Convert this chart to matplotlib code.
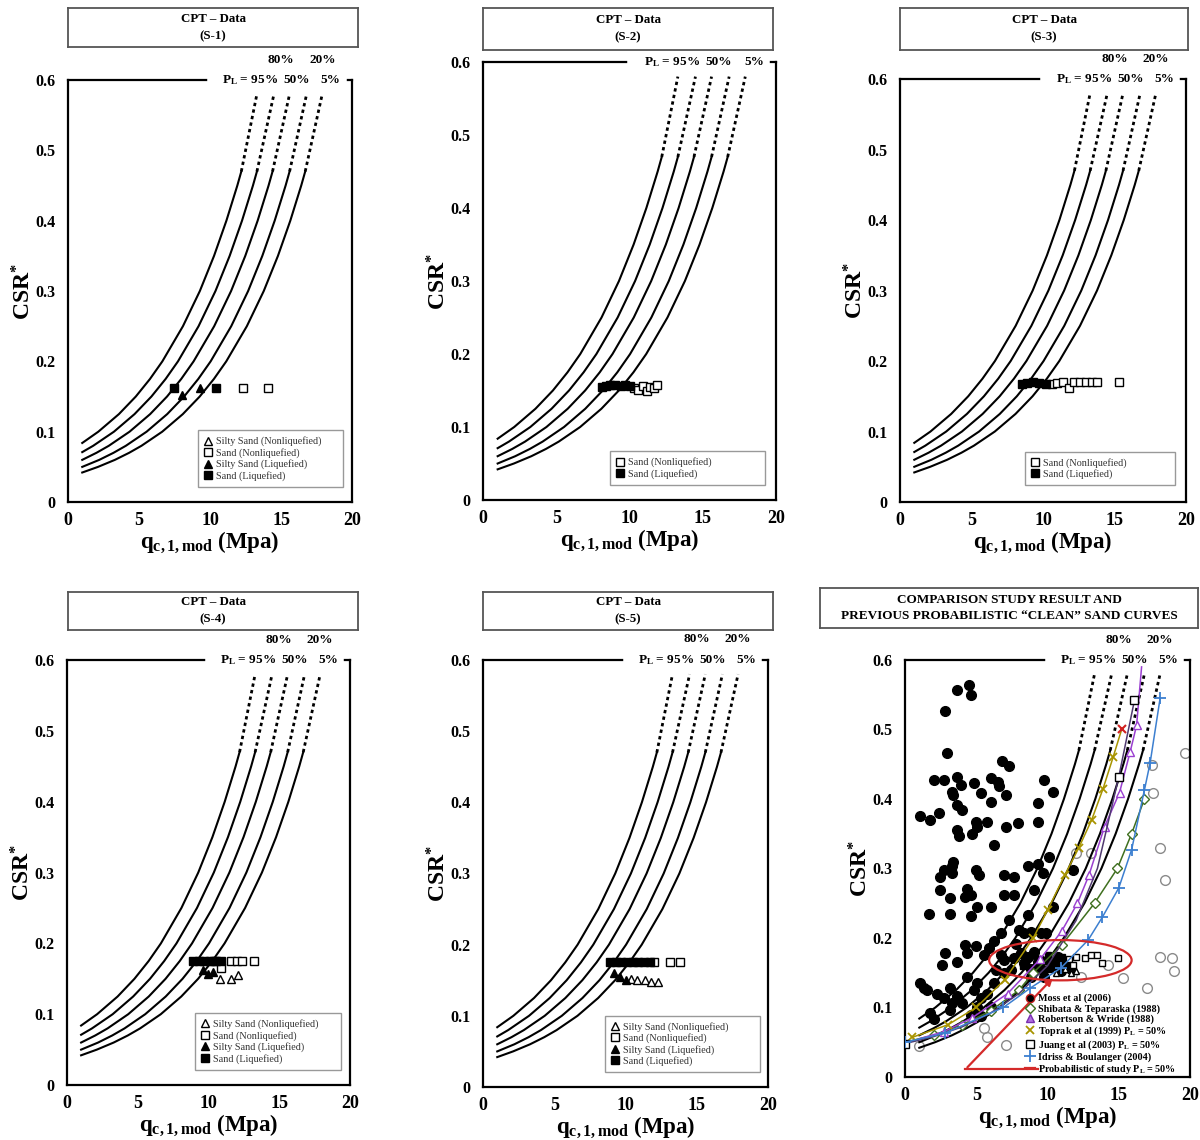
import matplotlib
matplotlib.use('Agg')
import matplotlib.pyplot as plt
from matplotlib.patches import Ellipse
from matplotlib.lines import Line2D

plt.rcParams['font.family'] = ['Liberation Serif', 'DejaVu Serif']
plt.rcParams['font.weight'] = 'bold'
plt.rcParams['mathtext.fontset'] = 'custom'
plt.rcParams['mathtext.rm'] = 'Liberation Serif:bold'
plt.rcParams['mathtext.it'] = 'Liberation Serif:italic:bold'
plt.rcParams['mathtext.bf'] = 'Liberation Serif:bold'

# probabilistic curves (same in every panel), solid part
curve_q_95 = [1.0, 2.13, 3.58, 4.77, 5.77, 6.64, 8.09, 9.28, 10.28, 11.15, 11.92, 12.2]
curve_csr_95 = [0.084, 0.1, 0.125, 0.15, 0.175, 0.2, 0.25, 0.3, 0.35, 0.4, 0.45, 0.47]
curve_q_80 = [1.0, 1.77, 3.23, 4.68, 5.87, 6.87, 7.74, 9.19, 10.38, 11.38, 12.25, 13.02, 13.3]
curve_csr_80 = [0.071, 0.08, 0.1, 0.125, 0.15, 0.175, 0.2, 0.25, 0.3, 0.35, 0.4, 0.45, 0.47]
curve_q_50 = [1.0, 2.0, 2.87, 4.33, 5.78, 6.97, 7.97, 8.84, 10.29, 11.48, 12.48, 13.35, 14.12, 14.4]
curve_csr_50 = [0.06, 0.07, 0.08, 0.1, 0.125, 0.15, 0.175, 0.2, 0.25, 0.3, 0.35, 0.4, 0.45, 0.47]
curve_q_20 = [1.0, 2.2, 3.2, 4.07, 5.53, 6.98, 8.17, 9.17, 10.04, 11.49, 12.68, 13.68, 14.55, 15.32, 15.6]
curve_csr_20 = [0.05, 0.06, 0.07, 0.08, 0.1, 0.125, 0.15, 0.175, 0.2, 0.25, 0.3, 0.35, 0.4, 0.45, 0.47]
curve_q_5 = [1.0, 2.11, 3.3, 4.3, 5.17, 6.63, 8.08, 9.27, 10.27, 11.14, 12.59, 13.78, 14.78, 15.65, 16.42, 16.7]
curve_csr_5 = [0.042, 0.05, 0.06, 0.07, 0.08, 0.1, 0.125, 0.15, 0.175, 0.2, 0.25, 0.3, 0.35, 0.4, 0.45, 0.47]
# dotted extension end (q at CSR = 0.58)
curve_top_q = [13.3, 14.5, 15.6, 16.8, 17.9]
curve_top_csr = 0.58

# S-1
s1_silt_liq_q = [8.0, 9.3]
s1_silt_liq_csr = [0.152, 0.162]
s1_sand_liq_q = [7.45, 10.4]
s1_sand_liq_csr = [0.162, 0.162]
s1_sand_non_q = [12.3, 14.1]
s1_sand_non_csr = [0.162, 0.162]

# S-2
s2_sand_liq_q = [8.1, 8.4, 8.7, 9.0, 9.4, 9.7, 10.0]
s2_sand_liq_csr = [0.155, 0.156, 0.157, 0.157, 0.156, 0.157, 0.156]
s2_sand_non_q = [10.3, 10.6, 10.9, 11.2, 11.4, 11.7, 11.9]
s2_sand_non_csr = [0.153, 0.151, 0.156, 0.150, 0.155, 0.153, 0.157]

# S-3
s3_sand_liq_q = [8.5, 8.9, 9.3, 9.7, 10.2]
s3_sand_liq_csr = [0.168, 0.169, 0.17, 0.169, 0.168]
s3_sand_non_q = [10.6, 11.0, 11.4, 11.8, 12.2, 12.6, 13.0, 13.4, 13.8, 15.3]
s3_sand_non_csr = [0.168, 0.169, 0.17, 0.162, 0.17, 0.17, 0.17, 0.17, 0.17, 0.17]

# S-4
s4_sand_liq_q = [8.9, 9.3, 9.7, 10.1, 10.5, 10.9]
s4_sand_liq_csr = [0.175, 0.175, 0.175, 0.175, 0.175, 0.175]
s4_silt_liq_q = [9.6, 10.0, 10.3]
s4_silt_liq_csr = [0.162, 0.157, 0.16]
s4_sand_non_q = [10.4, 10.9, 11.6, 12.0, 12.4, 13.2]
s4_sand_non_csr = [0.175, 0.165, 0.175, 0.175, 0.175, 0.175]
s4_silt_non_q = [10.8, 11.6, 12.1]
s4_silt_non_csr = [0.15, 0.15, 0.155]

# S-5
s5_sand_liq_q = [8.9, 9.3, 9.7, 10.1, 10.5, 10.9, 11.3, 11.7]
s5_sand_liq_csr = [0.175, 0.175, 0.175, 0.175, 0.175, 0.175, 0.175, 0.175]
s5_silt_liq_q = [9.2, 9.6, 10.0]
s5_silt_liq_csr = [0.16, 0.155, 0.15]
s5_sand_non_q = [12.0, 13.1, 13.8]
s5_sand_non_csr = [0.175, 0.175, 0.175]
s5_silt_non_q = [10.4, 10.8, 11.4, 11.8, 12.3]
s5_silt_non_csr = [0.152, 0.15, 0.15, 0.148, 0.147]

# comparison panel: Moss et al (2006) liquefied case histories
moss_pts = [(3.65, 0.557), (4.48, 0.564), (4.6, 0.55), (2.83, 0.527), (2.94, 0.466),
            (6.83, 0.454), (7.3, 0.447), (2.0, 0.427), (2.7, 0.427), (3.65, 0.432),
            (3.9, 0.42), (3.3, 0.41), (3.4, 0.406), (4.83, 0.423), (6.0, 0.43),
            (6.5, 0.425), (6.6, 0.418), (5.3, 0.408), (6.0, 0.396), (7.07, 0.406),
            (9.78, 0.427), (10.37, 0.41), (9.3, 0.394), (3.65, 0.391), (4.0, 0.384),
            (1.06, 0.375), (1.77, 0.37), (2.36, 0.38), (3.65, 0.355), (3.77, 0.346),
            (4.95, 0.367), (5.07, 0.36), (4.7, 0.35), (5.77, 0.367), (7.07, 0.36),
            (7.9, 0.365), (9.3, 0.367), (6.24, 0.334), (3.4, 0.31), (3.3, 0.303),
            (2.7, 0.298), (2.47, 0.288), (3.3, 0.293), (4.95, 0.298), (5.2, 0.29),
            (4.36, 0.271), (4.6, 0.262), (4.24, 0.259), (2.47, 0.269), (3.18, 0.257),
            (5.07, 0.245), (6.0, 0.245), (4.6, 0.231), (1.65, 0.235), (3.18, 0.235),
            (6.95, 0.29), (7.65, 0.288), (8.6, 0.303), (9.3, 0.307), (10.1, 0.317),
            (9.66, 0.293), (11.78, 0.298), (6.95, 0.262), (7.65, 0.262), (9.07, 0.269),
            (10.37, 0.245), (8.6, 0.233), (7.3, 0.226), (8.0, 0.212), (8.37, 0.207),
            (8.83, 0.209), (9.54, 0.207), (9.9, 0.207), (6.71, 0.207), (7.77, 0.192),
            (6.24, 0.195), (4.24, 0.19), (4.95, 0.188), (5.9, 0.185), (2.83, 0.178),
            (4.36, 0.178), (5.54, 0.176), (2.6, 0.161), (3.65, 0.166), (6.71, 0.176),
            (1.06, 0.135), (1.3, 0.128), (1.53, 0.125), (2.24, 0.12), (3.18, 0.128),
            (2.7, 0.113), (4.36, 0.144), (5.07, 0.135), (4.83, 0.125), (3.65, 0.116),
            (3.3, 0.106), (4.0, 0.106), (5.3, 0.113), (5.77, 0.12), (6.0, 0.101),
            (1.77, 0.092), (2.0, 0.084), (3.18, 0.096), (5.07, 0.101), (4.6, 0.089),
            (5.3, 0.087), (6.24, 0.135), (6.95, 0.149), (7.42, 0.154), (6.4, 0.154),
            (6.95, 0.168), (7.65, 0.171), (8.13, 0.178), (8.6, 0.173), (9.07, 0.18),
            (8.37, 0.164), (8.83, 0.156), (9.3, 0.166), (9.66, 0.154), (10.0, 0.168),
            (10.5, 0.161), (10.7, 0.173), (10.95, 0.152), (11.3, 0.166), (11.66, 0.156),
            (9.78, 0.144), (8.83, 0.144)]
moss_non_q = [19.67, 17.3, 17.43, 17.9, 18.26, 17.9, 18.7, 18.85, 16.96, 15.3,
              14.25, 12.37, 5.54, 5.77, 7.07, 12.0, 13.07, 1.0]
moss_non_csr = [0.466, 0.449, 0.408, 0.329, 0.283, 0.173, 0.171, 0.152, 0.128, 0.142,
                0.161, 0.144, 0.07, 0.058, 0.046, 0.322, 0.322, 0.045]

# study data in comparison panel
study_liq_q = [8.0, 8.5, 9.0, 9.5, 10.0, 10.5, 11.0, 8.3, 9.2, 10.2]
study_liq_csr = [0.175, 0.17, 0.175, 0.17, 0.175, 0.168, 0.172, 0.16, 0.158, 0.155]
study_non_q = [11.5, 12.0, 12.6, 13.07, 13.5, 13.8, 14.96, 11.78]
study_non_csr = [0.17, 0.173, 0.171, 0.176, 0.176, 0.164, 0.171, 0.161]
study_silt_q = [10.6, 11.2, 11.66, 12.0]
study_silt_csr = [0.15, 0.155, 0.149, 0.152]

# previous probabilistic "clean" sand curves
shibata_q = [0.0, 2.0, 4.0, 6.0, 8.0, 9.0, 11.0, 13.3, 14.9, 15.9, 16.8]
shibata_csr = [0.05, 0.06, 0.075, 0.095, 0.125, 0.15, 0.19, 0.25, 0.30, 0.35, 0.40]
robertson_q = [1.0, 2.7, 4.7, 7.2, 9.5, 11.0, 12.1, 12.9, 14.0, 15.05, 15.8, 16.25, 16.6]
robertson_csr = [0.055, 0.065, 0.085, 0.12, 0.17, 0.21, 0.25, 0.29, 0.36, 0.409, 0.468, 0.506, 0.59]
toprak_q = [0.5, 3.0, 5.0, 7.0, 9.0, 10.0, 11.2, 12.2, 13.1, 13.9, 14.6, 15.2]
toprak_csr = [0.057, 0.075, 0.1, 0.14, 0.2, 0.24, 0.29, 0.33, 0.37, 0.415, 0.46, 0.5]
juang_q = [0.0, 2.0, 4.0, 6.0, 8.0, 10.0, 12.0, 13.5, 15.0, 16.1]
juang_csr = [0.048, 0.058, 0.072, 0.092, 0.12, 0.16, 0.225, 0.3, 0.432, 0.542]
idriss_q = [0.0, 2.8, 6.9, 8.8, 10.95, 12.85, 13.85, 15.0, 15.9, 16.8, 17.2, 17.9]
idriss_csr = [0.05, 0.063, 0.1, 0.128, 0.157, 0.197, 0.23, 0.272, 0.327, 0.413, 0.452, 0.545]

y_ticks = [0, 0.1, 0.2, 0.3, 0.4, 0.5, 0.6]
y_tick_labels = ['0', '0.1', '0.2', '0.3', '0.4', '0.5', '0.6']
x_ticks = [0, 5, 10, 15, 20]

LEG_FONT = {'family': 'Liberation Serif', 'weight': 'normal', 'size': 7.3}


def draw_curves(ax):
    curves = [(curve_q_95, curve_csr_95), (curve_q_80, curve_csr_80), (curve_q_50, curve_csr_50),
              (curve_q_20, curve_csr_20), (curve_q_5, curve_csr_5)]
    for (q, csr), qt in zip(curves, curve_top_q):
        ax.plot(q, csr, color='k', lw=1.5, zorder=2)
        ax.plot([q[-1], qt], [csr[-1], curve_top_csr], color='k', lw=2, ls=(0, (1.2, 1.2)), zorder=2)


def setup_axes(ax):
    ax.set_xlim(0, 20)
    ax.set_ylim(0, 0.6)
    ax.set_xticks(x_ticks)
    ax.set_yticks(y_ticks)
    ax.set_yticklabels(y_tick_labels)
    ax.tick_params(length=0)
    ax.tick_params(axis='x', labelsize=13, pad=7)
    ax.tick_params(axis='y', labelsize=11.5, pad=9)
    for s in ax.spines.values():
        s.set_linewidth(1.6)
    ax.set_ylabel(r'$\mathbf{CSR}^{\mathbf{*}}$', fontsize=17, labelpad=0)
    ax.set_xlabel(r'$\mathbf{q}_{\mathbf{c,1,mod}}$ $\mathbf{(Mpa)}$', fontsize=16.5, labelpad=1)
    # P_L labels sitting on the top frame line
    ax.plot([10.0, 19.4], [0.6, 0.6], color='white', lw=4, clip_on=False, zorder=4)
    ax.text(14.8, 0.6, r'P$_{\mathrm{L}}$ = 95%', ha='right', va='center', fontsize=9.5, zorder=5)
    ax.text(16.1, 0.6, '50%', ha='center', va='center', fontsize=9.5, zorder=5)
    ax.text(18.5, 0.6, '5%', ha='center', va='center', fontsize=9.5, zorder=5)
    ax.text(15.0, 0.629, '80%', ha='center', va='center', fontsize=9.5, zorder=5)
    ax.text(17.9, 0.629, '20%', ha='center', va='center', fontsize=9.5, zorder=5)


def title_box(fig, rect, text, size=9.3, spacing=1.6):
    tax = fig.add_axes(rect)
    tax.set_xticks([])
    tax.set_yticks([])
    for s in tax.spines.values():
        s.set_color('#555555')
        s.set_linewidth(1.3)
    tax.text(0.5, 0.5, text, ha='center', va='center', fontsize=size, linespacing=spacing)


def pts(ax, q, csr, marker, filled, label):
    ax.plot(q, csr, ls='none', marker=marker, ms=6, mew=1,
            mfc='k' if filled else 'white', mec='k', label=label, zorder=3)


def cpt_panel(fig, rect, trect, name, series, leg_box):
    ax = fig.add_axes(rect)
    draw_curves(ax)
    for q, csr, marker, filled, label in series:
        pts(ax, q, csr, marker, filled, label)
    setup_axes(ax)
    leg = ax.legend(loc='lower left', bbox_to_anchor=leg_box, mode='expand', prop=LEG_FONT,
                    fancybox=False, edgecolor='#999999', framealpha=1, labelspacing=0.15,
                    handlelength=0.8, handletextpad=0.4, borderpad=0.6)
    leg.get_frame().set_linewidth(1.0)
    for t in leg.get_texts():
        t.set_color('#333333')
    title_box(fig, trect, 'CPT \u2013 Data\n(' + name + ')')
    return ax


def main():
    fig = plt.figure(figsize=(12, 11.4), dpi=100)

    cpt_panel(fig, [0.0567, 0.5596, 0.2367, 0.3702], [0.0567, 0.9588, 0.2417, 0.0342], 'S-1',
              [([], [], '^', False, 'Silty Sand (Nonliquefied)'),
               (s1_sand_non_q, s1_sand_non_csr, 's', False, 'Sand (Nonliquefied)'),
               (s1_silt_liq_q, s1_silt_liq_csr, '^', True, 'Silty Sand (Liquefied)'),
               (s1_sand_liq_q, s1_sand_liq_csr, 's', True, 'Sand (Liquefied)')],
              (0.44, 0.024, 0.546, 0.14))
    cpt_panel(fig, [0.4025, 0.5614, 0.2442, 0.3842], [0.4025, 0.9561, 0.2417, 0.0368], 'S-2',
              [(s2_sand_non_q, s2_sand_non_csr, 's', False, 'Sand (Nonliquefied)'),
               (s2_sand_liq_q, s2_sand_liq_csr, 's', True, 'Sand (Liquefied)')],
              (0.416, 0.023, 0.564, 0.096))
    cpt_panel(fig, [0.75, 0.5596, 0.2383, 0.3711], [0.75, 0.9561, 0.24, 0.0368], 'S-3',
              [(s3_sand_non_q, s3_sand_non_csr, 's', False, 'Sand (Nonliquefied)'),
               (s3_sand_liq_q, s3_sand_liq_csr, 's', True, 'Sand (Liquefied)')],
              (0.42, 0.028, 0.559, 0.096))
    cpt_panel(fig, [0.0558, 0.0482, 0.2358, 0.3728], [0.0567, 0.4474, 0.2417, 0.0333], 'S-4',
              [(s4_silt_non_q, s4_silt_non_csr, '^', False, 'Silty Sand (Nonliquefied)'),
               (s4_sand_non_q, s4_sand_non_csr, 's', False, 'Sand (Nonliquefied)'),
               (s4_silt_liq_q, s4_silt_liq_csr, '^', True, 'Silty Sand (Liquefied)'),
               (s4_sand_liq_q, s4_sand_liq_csr, 's', True, 'Sand (Liquefied)')],
              (0.435, 0.024, 0.551, 0.14))
    cpt_panel(fig, [0.4025, 0.0465, 0.2375, 0.3746], [0.4025, 0.4474, 0.2417, 0.0333], 'S-5',
              [(s5_silt_non_q, s5_silt_non_csr, '^', False, 'Silty Sand (Nonliquefied)'),
               (s5_sand_non_q, s5_sand_non_csr, 's', False, 'Sand (Nonliquefied)'),
               (s5_silt_liq_q, s5_silt_liq_csr, '^', True, 'Silty Sand (Liquefied)'),
               (s5_sand_liq_q, s5_sand_liq_csr, 's', True, 'Sand (Liquefied)')],
              (0.41, 0.023, 0.58, 0.14))

    # comparison panel
    ax = fig.add_axes([0.7542, 0.0553, 0.2375, 0.3658])
    mq = [p[0] for p in moss_pts]
    mc = [p[1] for p in moss_pts]
    ax.plot(moss_non_q, moss_non_csr, ls='none', marker='o', ms=7, mfc='none', mec='#8a8a8a', mew=1, zorder=2)
    draw_curves(ax)
    ax.plot(mq, mc, ls='none', marker='o', ms=7, mfc='k', mec='k', zorder=3)
    ax.plot(study_silt_q, study_silt_csr, ls='none', marker='^', ms=5, mfc='white', mec='k', zorder=3)
    ax.plot(study_liq_q, study_liq_csr, ls='none', marker='s', ms=5, mfc='k', mec='k', zorder=3)
    ax.plot(study_non_q, study_non_csr, ls='none', marker='s', ms=5, mfc='white', mec='k', zorder=3)
    ax.plot(shibata_q, shibata_csr, color='#3f6f1f', lw=1.1, marker='D', ms=5, mfc='white',
            mec='#3f6f1f', markevery=list(range(1, len(shibata_q))), zorder=4)
    ax.plot(robertson_q, robertson_csr, color='#9a3fd0', lw=1.1, marker='^', ms=6, mfc='white',
            mec='#9a3fd0', markevery=list(range(1, len(robertson_q) - 1)), zorder=4)
    ax.plot(toprak_q, toprak_csr, color='#a89400', lw=1.1, marker='x', ms=6, mew=1.3,
            markevery=list(range(len(toprak_q) - 1)), zorder=4)
    ax.plot(toprak_q[-1:], toprak_csr[-1:], ls='none', color='#d02020', marker='x', ms=6, mew=1.5, zorder=4)
    ax.plot(juang_q, juang_csr, color='#503a70', lw=1.1, marker='s', ms=6, mfc='white', mec='k',
            markevery=[0, len(juang_q) - 2, len(juang_q) - 1], zorder=4)
    ax.plot(idriss_q, idriss_csr, color='#3c7fd0', lw=1.1, marker='+', ms=8, mew=1.3, zorder=4)

    ax.add_patch(Ellipse((10.9, 0.168), 10.0, 0.058, fill=False, ec='#d42a2a', lw=1.6, zorder=5))
    ax.plot([4.24, 9.3], [0.011, 0.011], color='#d42a2a', lw=1.6, zorder=5)
    ax.annotate('', xy=(10.5, 0.145), xytext=(4.24, 0.011),
                arrowprops=dict(arrowstyle='-|>', color='#d42a2a', lw=1.6, mutation_scale=10), zorder=5)
    setup_axes(ax)

    handles = [Line2D([], [], ls='none', marker='o', ms=6, mfc='k', mec='#c02020'),
               Line2D([], [], ls='none', marker='D', ms=5, mfc='white', mec='#3f6f1f'),
               Line2D([], [], ls='none', marker='^', ms=6, mfc='#b070e0', mec='#7a2fb0'),
               Line2D([], [], ls='none', marker='x', ms=6, mew=1.3, color='#a89400'),
               Line2D([], [], ls='none', marker='s', ms=6, mfc='white', mec='k'),
               Line2D([], [], ls='none', marker='+', ms=8, mew=1.3, color='#3c7fd0'),
               Line2D([], [], color='#d42a2a', lw=1.6)]
    labels = ['Moss et al (2006)', 'Shibata & Teparaska (1988)', 'Robertson & Wride (1988)',
              r'Toprak et al (1999) P$_{\mathrm{L}}$ = 50%', r'Juang et al (2003) P$_{\mathrm{L}}$ = 50%',
              'Idriss & Boulanger (2004)', r'Probabilistic of study P$_{\mathrm{L}}$ = 50%']
    leg = ax.legend(handles, labels, loc='lower left', bbox_to_anchor=(0.4, -0.012), frameon=False,
                    prop={'family': 'Liberation Serif', 'weight': 'bold', 'size': 7.3},
                    labelspacing=0.06, handlelength=1.0, handletextpad=0.3, borderpad=0.1)
    leg.set_zorder(6)

    title_box(fig, [0.6833, 0.4491, 0.315, 0.0351],
              'COMPARISON STUDY RESULT AND\nPREVIOUS PROBABILISTIC \u201cCLEAN\u201d SAND CURVES', size=9.5, spacing=1.4)

    fig.savefig('out.png', dpi=100, facecolor='white')


if (__name__ == '__main__'):
    main()
